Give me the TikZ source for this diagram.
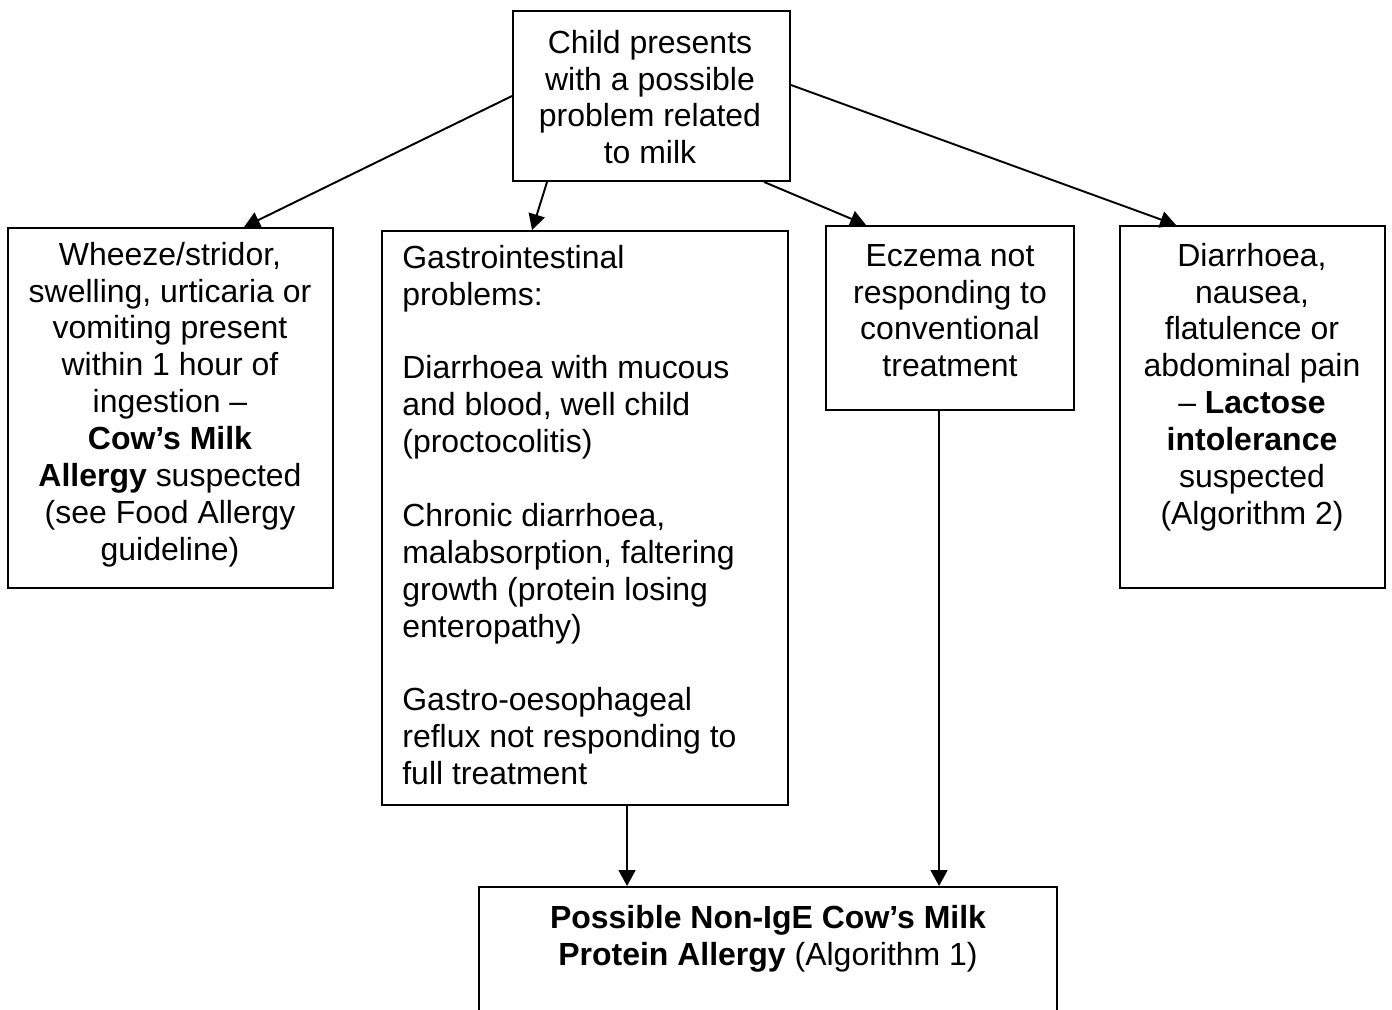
\documentclass[tikz,border=0pt]{standalone}
\usepackage{fontspec}
\setmainfont{Liberation Sans}
\usetikzlibrary{arrows.meta, positioning, fit, calc}
\definecolor{DK}{RGB}{0,0,0}

\begin{document}
\begin{tikzpicture}[x=0.02cm, y=-0.02cm,
  box/.style={draw=DK, line width=1.1pt, inner sep=0pt},
  txt/.style={font=\fontsize{18.2}{21}\selectfont, text=DK, inner sep=0pt, anchor=north, align=center},
  arr/.style={draw=DK, line width=1.1pt, -{Triangle[length=9pt, width=9.5pt]}}
]
\useasboundingbox (0,0) rectangle (1392,1010);

% Boxes
\node[box, fit={(513,11)(790,181)}] (top) {};
\node[box, fit={(8,228)(333,588)}] (wheeze) {};
\node[box, fit={(382,231)(788,805)}] (gi) {};
\node[box, fit={(826,226)(1074,410)}] (ecz) {};
\node[box, fit={(1120,226)(1385,588)}] (lac) {};
\node[box, fit={(479,887)(1057,1040)}] (poss) {};

% Labels inside
\node[txt] (toptxt) at (650,27) {\strut Child presents\\with a possible\\problem related\\to milk};
\node[txt] (wheezetxt) at (170,239) {\strut Wheeze/stridor,\\swelling, urticaria or\\vomiting present\\within 1 hour of\\ingestion –\\\textbf{Cow’s Milk}\\\textbf{Allergy} suspected\\(see Food Allergy\\guideline)};
\node[txt, anchor=north west, align=left] (gitxt) at (402,242) {\strut Gastrointestinal\\problems:\\[21pt]Diarrhoea with mucous\\and blood, well child\\(proctocolitis)\\[21pt]Chronic diarrhoea,\\malabsorption, faltering\\growth (protein losing\\enteropathy)\\[21pt]Gastro-oesophageal\\reflux not responding to\\full treatment};
\node[txt] (ecztxt) at (950,240) {\strut Eczema not\\responding to\\conventional\\treatment};
\node[txt] (lactxt) at (1252,240) {\strut Diarrhoea,\\nausea,\\flatulence or\\abdominal pain\\– \textbf{Lactose}\\\textbf{intolerance}\\suspected\\(Algorithm 2)};
\node[txt] (posstxt) at (768,902) {\strut\textbf{Possible Non-IgE Cow’s Milk}\\\textbf{Protein Allergy} (Algorithm 1)};

% Connectors
\draw[arr] (top.west) -- ($(wheeze.north west)+(237,0)$);
\draw[arr] ($(top.south west)+(35,0)$) -- ($(gi.north west)+(151,0)$);
\draw[arr] ($(top.south west)+(252,0)$) -- ($(ecz.north west)+(41,0)$);
\draw[arr] ($(top.east)+(0,-11)$) -- ($(lac.north west)+(57,0)$);
\coordinate (gibot) at ($(gi.south west)+(246,0)$);
\coordinate (eczbot) at ($(ecz.south west)+(114,0)$);
\draw[arr] (gibot) -- (gibot |- poss.north);
\draw[arr] (eczbot) -- (eczbot |- poss.north);
\end{tikzpicture}
\end{document}
